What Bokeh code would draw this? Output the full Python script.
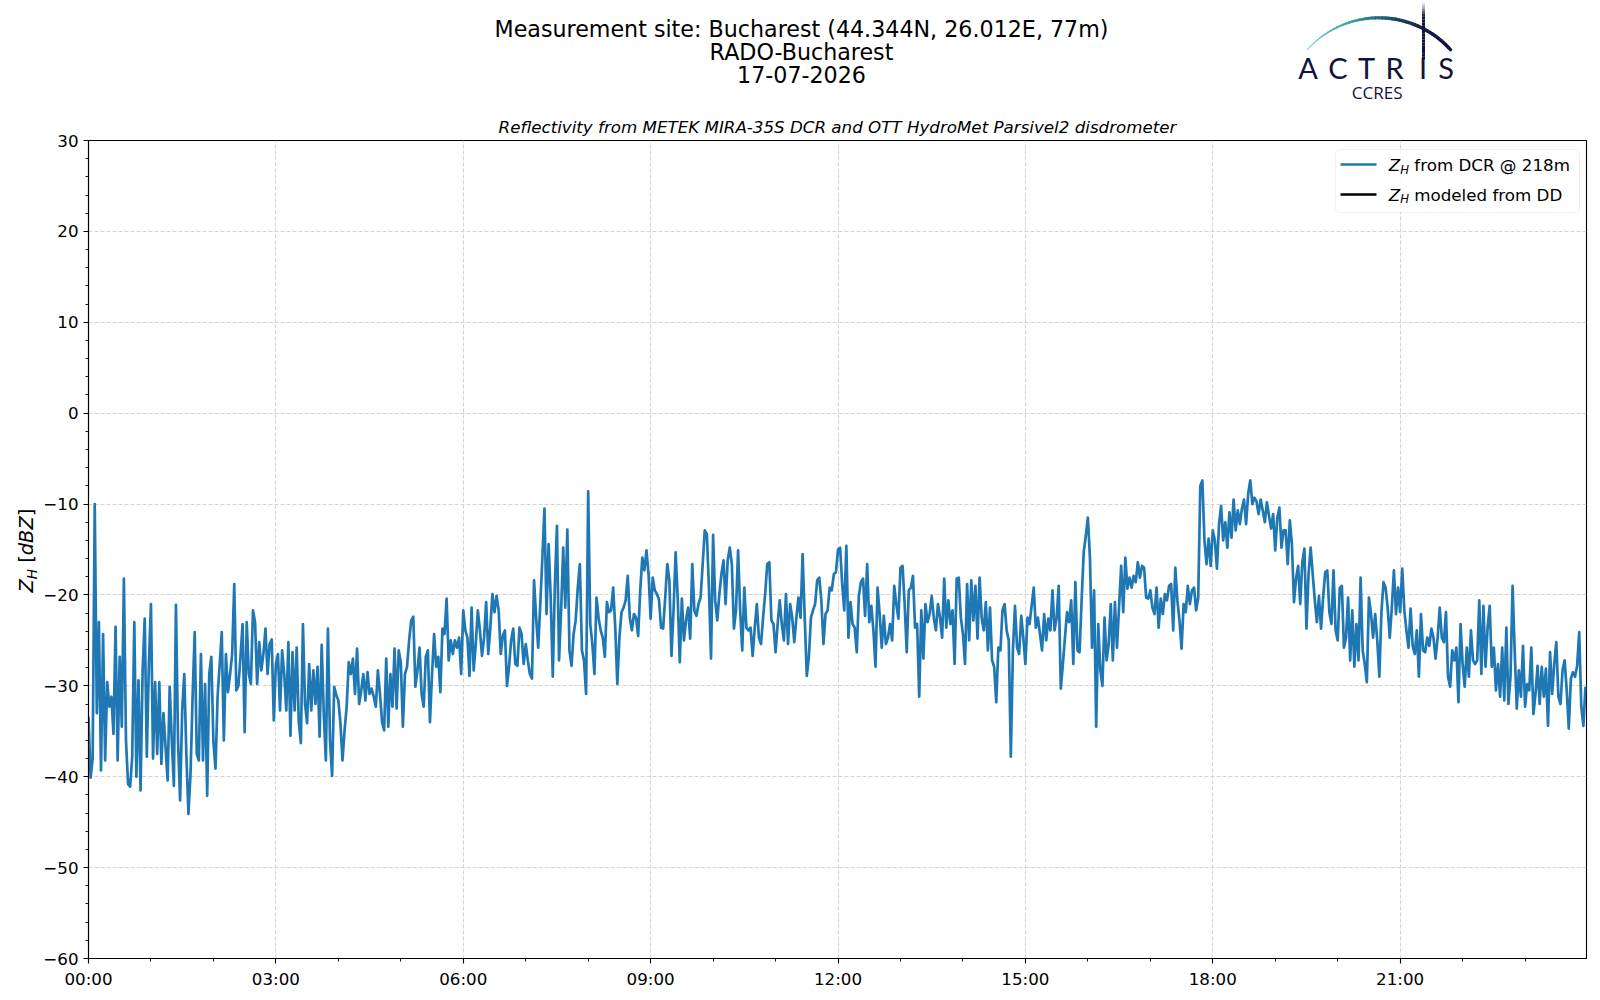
import math
from bokeh.plotting import figure
from bokeh.layouts import gridplot
from bokeh.models import Range1d, FixedTicker, Label, BoxAnnotation, ColumnDataSource
from bokeh.embed import file_html
from bokeh.resources import INLINE
from bokeh.core.properties import value

# ---------------- data (Z_H from DCR @ 218 m, one value every 2 minutes) ----------------
STEP_MIN = 2
zh_00_06 = [
    -33.4, -40.1, -38, -10, -33, -23, -39.3, -24.3, -38.2, -29.6, -32.3, -31.2, -35.3, -23.5, -38.2, -26.8, -34.5, -18.2, -36, -40.8, -41.1, -37.8, -23, -40, -29.4, -41.5, -28.3, -22.6, -37.8, -27.6,
    -21, -38, -29.6, -37.5, -29.6, -38.6, -33, -36.7, -40.4, -30.1, -36, -41, -21.1, -36, -42.6, -32.7, -28.7, -37.5, -44.1, -39.7, -31.2, -24.1, -37.5, -38.2, -26.5, -38.2, -29.8, -42.1, -28.7, -26.8,
    -36.2, -39.1, -31.2, -27.7, -24.1, -36, -26.5, -30.7, -28.7, -26.5, -18.8, -30.5, -30, -26.8, -23.2, -35.1, -23, -28.7, -29.8, -21.7, -23, -29.8, -25.2, -28.3, -26.5, -23.7, -28.7, -25.4, -24.9, -33.8,
    -27.6, -26.5, -32.7, -26.1, -28.7, -32.7, -25.2, -35.5, -26.3, -32.7, -25.8, -34, -36.3, -23.2, -32, -34.1, -27.6, -32.7, -28.3, -32, -27.9, -35.6, -25.5, -33, -38.2, -23.7, -36, -39.9, -30.1, -31,
    -31.6, -34.1, -38.2, -34.9, -32.3, -27.4, -28.7, -27, -30.9, -25.9, -32, -30.5, -28.7, -31.6, -28.5, -30.9, -30.3, -31.2, -32.3, -28.3, -30.9, -34, -34.9, -27, -34.5, -28.7, -32.3, -25.9, -32.5, -26.1,
    -27.4, -34.5, -28.7, -27.9, -25, -22.8, -22.4, -30.1, -28.3, -25.8, -30.9, -32.3, -26.8, -26.1, -34, -28.7, -24.3, -27.9, -26.8, -30.7, -23.7, -24.3, -20.4, -27.2, -25, -26.5, -25, -25.8, -24.7, -28.7,
]
zh_06_12 = [
    -21.7, -23.9, -24.7, -28.9, -21.4, -28.3, -25.4, -21.7, -23.9, -26.7, -24.7, -20.8, -26.5, -23.6, -19.9, -21.9, -20.1, -21.7, -26.5, -24.5, -23.9, -30, -27.9, -25, -23.7, -27.6, -27.8, -23.6, -24.3, -27.6,
    -25.4, -27.2, -28.7, -29.2, -18.4, -22.5, -25.8, -21, -15.9, -10.5, -22.1, -14.4, -20.3, -29, -19, -12.4, -27.2, -21.7, -14.8, -21.4, -12.8, -26.1, -27.8, -24.3, -22.8, -19.2, -16.6, -26.1, -27.2, -30.9,
    -8.6, -23.2, -25.4, -28.7, -20.3, -22.5, -23.9, -24.7, -26.8, -20.8, -21.9, -21.7, -19.2, -23.6, -29.8, -24.7, -21.9, -21.4, -20.6, -17.9, -22.5, -23.9, -22.1, -22.5, -24.5, -19.5, -15.9, -17.3, -15.1, -17.7,
    -22.6, -18.1, -19.5, -19.9, -20.5, -23.6, -23.7, -20.3, -16.6, -18.4, -26.7, -21.7, -15.3, -20.3, -27.4, -20.4, -25, -22.8, -21.4, -24.8, -16.6, -21.7, -22.3, -21, -20.3, -16.6, -12.9, -13.3, -19.2, -27,
    -13.4, -20.6, -22.8, -19.9, -17.7, -16.2, -21, -16.2, -14.8, -16.6, -23.7, -21.7, -15.1, -21.7, -26.1, -19.2, -23.6, -23.9, -23.6, -26.7, -23.6, -21, -24.7, -25.4, -22.5, -19.9, -16.6, -16.4, -22.8, -23.2,
    -26.3, -23.2, -20.6, -23.2, -25, -19.9, -25.4, -21, -22.5, -25.2, -22.5, -20.3, -22.5, -15.5, -22.5, -28.9, -26.8, -22.5, -21.7, -21, -18.4, -18.1, -20.6, -25.4, -22.1, -21.7, -19.2, -19.5, -17.7, -17.5,
]
zh_12_18 = [
    -15, -14.8, -18.8, -21.7, -14.6, -24.7, -20.8, -23.2, -23.6, -26.3, -20.1, -18.6, -18.2, -22.3, -16.6, -23, -21.2, -23.9, -27.9, -19.2, -22.1, -25.8, -22.3, -25.4, -24.7, -23.2, -25, -19, -21, -22.6,
    -17, -16.8, -21, -26.3, -19.5, -19.2, -17.9, -23.6, -23.2, -31.2, -21.7, -27, -21, -23, -22.1, -20.1, -22.5, -23.9, -21, -22.5, -24.7, -18.2, -23.6, -20.6, -23.2, -21.7, -27.6, -18.2, -18.1, -22.5,
    -24.3, -27.6, -18.8, -25, -18.4, -22.8, -19, -24.8, -18.1, -22.5, -23.9, -20.8, -26.1, -21.4, -27.2, -27.9, -31.8, -25.8, -26.1, -21.7, -21, -23.9, -25, -37.8, -26.1, -21.2, -25.8, -26.5, -22.3, -24.7,
    -27.6, -22.5, -23.2, -21.2, -19.2, -23.6, -22.5, -24.3, -26.1, -22.1, -25, -22.6, -23.9, -19.5, -23.9, -22.5, -19, -30.3, -27.6, -24.7, -21.9, -23, -20.6, -27.6, -18.6, -26.1, -26.3, -20.6, -15.3, -13.5,
    -11.5, -15.9, -25.8, -19.5, -34.5, -23.2, -28.3, -30, -22.5, -27.2, -25.4, -21, -27.2, -20.8, -25.8, -21.2, -16.8, -21.9, -15.9, -19.3, -18.1, -19.2, -17.9, -18.6, -16.4, -18.1, -16.8, -17, -20.3, -20.4,
    -19.5, -21.4, -22.1, -19.2, -23.6, -20.4, -22.1, -19.9, -20.6, -19, -18.8, -23.9, -17, -20.6, -22.8, -25.9, -21, -21.9, -19, -21, -19.5, -19.2, -21.7, -20.3, -8, -7.4, -14, -16.6, -13.8, -16.8,
]
zh_18_24 = [
    -12.9, -14, -17.1, -12.2, -10.2, -14, -12, -14.8, -10.9, -13.7, -9.5, -12.9, -10.7, -12.2, -10.5, -9.5, -12.2, -8.9, -7.4, -10, -9.3, -9.7, -11.1, -9.5, -10.7, -12, -9.8, -11.3, -12.7, -11.1,
    -15.1, -11.5, -10.4, -14.8, -12.9, -12.9, -16.6, -11.8, -14.4, -20.8, -18.2, -16.8, -21, -16.4, -14.9, -23.7, -17.7, -14.8, -17.7, -20.6, -23, -20.1, -23.7, -20.3, -17.5, -17.3, -21.9, -23.2, -17.3, -23.9,
    -25, -19.2, -19, -25.8, -24.7, -20.3, -27.2, -21.7, -27.9, -23.2, -27.2, -18.1, -26.1, -27.6, -29.6, -20.3, -22.1, -24.7, -22.1, -25, -29, -21.9, -18.6, -19.2, -21.4, -24.7, -21.4, -17.3, -22.1, -19.2,
    -21.9, -17.1, -21.7, -23.9, -25.8, -21.5, -25.6, -26.5, -23.9, -29, -22.1, -26.1, -26.3, -24.7, -25.6, -23.7, -24.7, -27, -24.7, -21.4, -24.7, -25.2, -21.9, -29, -30.1, -26.1, -27.2, -25.8, -31.8, -23.2,
    -27.6, -30.1, -25.8, -29, -23.9, -27.2, -27.6, -27.2, -20.6, -28.7, -21.2, -27.9, -23.6, -21.2, -27.9, -25.8, -30.5, -27.6, -31.2, -25.8, -31.6, -23.6, -32, -29, -19, -26.1, -32.5, -28.3, -31.2, -25.6,
    -32.3, -29.8, -30.5, -25.8, -33.1, -30.9, -27.8, -32, -27.9, -31.2, -28.1, -34.4, -26.3, -30.9, -27.6, -25.2, -31.2, -32, -28.3, -27.2, -30.5, -34.7, -29.2, -28.5, -29, -27.8, -24.1, -32.3, -34.4, -30.1,
]
zh_dcr = zh_00_06 + zh_06_12 + zh_12_18 + zh_18_24
hours = [i * STEP_MIN / 60.0 for i in range(len(zh_dcr))]

x_ticks = [0, 3, 6, 9, 12, 15, 18, 21]
x_tick_labels = ["00:00", "03:00", "06:00", "09:00", "12:00", "15:00", "18:00", "21:00"]
y_ticks = [-60, -50, -40, -30, -20, -10, 0, 10, 20, 30]
y_tick_labels = ["\u221260", "\u221250", "\u221240", "\u221230", "\u221220", "\u221210", "0", "10", "20", "30"]

title_lines = ["Measurement site: Bucharest (44.344N, 26.012E, 77m)", "RADO-Bucharest", "17-07-2026"]
subtitle = "Reflectivity from METEK MIRA-35S DCR and OTT HydroMet Parsivel2 disdrometer"
legend_texts = ["from DCR @ 218m", "modeled from DD"]
legend_colors = ["#1f77b4", "black"]
logo_letters = ["A", "C", "T", "R", "I", "S"]
logo_sub = "CCRES"

# ---------------- layout constants (page pixels) ----------------
W = 1600
LAB_W = 40          # left strip holding the y-axis title
HEAD_H = 104        # top strip holding titles and logo
B_L, B_R = 48, 14
B_T, B_B = 36, 38
FH = 818
MAIN_W = W - LAB_W
MAIN_H = B_T + FH + B_B
FW = MAIN_W - B_L - B_R
X_END = 23 + 59 / 60.0
Y0, Y1 = -60, 30
FX0 = LAB_W + B_L
FY0 = HEAD_H + B_T
FONT = "DejaVu Sans"
NAVY = "#10133a"
MID = 0.346  # DejaVu: baseline -> middle, in em


def dx(sx):
    return (sx - FX0) * X_END / FW


def dy(sy):
    return Y1 - (sy - FY0) * (Y1 - Y0) / FH


# ---------------- header (titles + logo), data units == page pixels ----------------
h = figure(width=MAIN_W, height=HEAD_H, x_range=Range1d(FX0, FX0 + FW), y_range=Range1d(HEAD_H, 0),
           x_axis_location=None, y_axis_location=None, title=None,
           min_border_left=B_L, min_border_right=B_R, min_border_top=0, min_border_bottom=0,
           toolbar_location=None, output_backend="svg")
h.outline_line_color = None
h.grid.visible = False

title_src = ColumnDataSource(dict(x=[801, 801, 801], y=[28.3, 51.6, 74.0], t=title_lines))
h.text(x="x", y="y", text="t", source=title_src, text_font=value(FONT),
       text_font_size=value("22.2px"), text_align="center", text_baseline="middle",
       text_color="black")


def mix(c1, c2, t):
    a = [int(c1[i:i + 2], 16) for i in (1, 3, 5)]
    b = [int(c2[i:i + 2], 16) for i in (1, 3, 5)]
    return "#%02x%02x%02x" % tuple(int(round(a[k] + (b[k] - a[k]) * t)) for k in range(3))


stops = [(0.0, "#8fd6cf"), (0.35, "#3a9ca3"), (0.6, "#1d4a6c"), (0.8, "#161f47"), (1.0, NAVY)]


def grad(t):
    for k in range(len(stops) - 1):
        t0, c0 = stops[k]
        t1, c1 = stops[k + 1]
        if t <= t1:
            return mix(c0, c1, (t - t0) / (t1 - t0))
    return stops[-1][1]


cx, cy, R = 1378.4, 113.6, 96.3
n_seg = 48
axs, ays, acol, awid = [], [], [], []
th0 = math.radians(-48)
th1 = math.radians(48)
for k in range(n_seg):
    ta = th0 + (th1 - th0) * k / n_seg
    tb = th0 + (th1 - th0) * (k + 1) / n_seg
    axs.append([cx + R * math.sin(ta), cx + R * math.sin(tb)])
    ays.append([cy - R * math.cos(ta), cy - R * math.cos(tb)])
    f = (k + 0.5) / n_seg
    acol.append(grad(f))
    awid.append(1.0 + 2.4 * min(f / 0.55, 1.0))
h.multi_line(xs="xs", ys="ys", line_color="c", line_width="w", line_cap="round",
             source=ColumnDataSource(dict(xs=axs, ys=ays, c=acol, w=awid)))

# fading vertical stroke of the "I"
vxs, vys, vcol = [], [], []
v_top, v_bot = 2.0, 59.0
for k in range(20):
    ya = v_top + (v_bot - v_top) * k / 20
    yb = v_top + (v_bot - v_top) * (k + 1) / 20
    vxs.append([1423, 1423])
    vys.append([ya, yb])
    vcol.append(mix("#ffffff", NAVY, min(1.0, (k + 0.5) / 5.0)))
h.multi_line(xs="xs", ys="ys", line_color="c", line_width=3,
             source=ColumnDataSource(dict(xs=vxs, ys=vys, c=vcol)))

logo_src = ColumnDataSource(dict(x=[1307.5, 1337.5, 1366, 1394, 1422.5, 1445.7],
                                 y=[66.8] * 6, t=logo_letters))
h.text(x="x", y="y", text="t", source=logo_src, text_font=value("Lato"),
       text_font_size=value("29px"), text_align="center", text_baseline="middle",
       text_color=NAVY)
h.text(x=[1376.7], y=[92.1], text=[logo_sub], text_font=value("Open Sans"),
       text_font_size=value("17px"), text_align="center", text_baseline="middle",
       text_color=NAVY)

# ---------------- left strip: y-axis title  Z_H [dBZ] ----------------
ylab = figure(width=LAB_W, height=MAIN_H, x_range=Range1d(0, LAB_W), y_range=Range1d(Y0, Y1),
              x_axis_location=None, y_axis_location=None, title=None,
              min_border_left=0, min_border_right=0, min_border_top=B_T, min_border_bottom=B_B,
              toolbar_location=None, output_backend="svg")
ylab.outline_line_color = None
ylab.grid.visible = False

ylab_base_x = 32.3
ylab_start = 592
ylab_parts = [
    ("Z", 0.0, 0.0, 19.4, "italic"),
    ("H", 13.3, 3.5, 13.6, "italic"),
    ("[", 29.7, 0.0, 19.4, "normal"),
    ("dBZ", 37.3, 0.0, 19.4, "italic"),
    ("]", 76.2, 0.0, 19.4, "normal"),
]
for txt, off, shift, size, style in ylab_parts:
    ylab.text(x=[ylab_base_x + shift - MID * size], y=[dy(ylab_start - off)], text=[txt],
              angle=math.pi / 2, text_font=value(FONT), text_font_size=value("%.1fpx" % size),
              text_font_style=style, text_align="left", text_baseline="middle",
              text_color="black")

# ---------------- main plot ----------------
p = figure(width=MAIN_W, height=MAIN_H, x_range=Range1d(0, X_END), y_range=Range1d(Y0, Y1),
           output_backend="svg", toolbar_location=None, title=subtitle,
           min_border_left=B_L, min_border_right=B_R, min_border_top=B_T, min_border_bottom=B_B)
p.title.align = "center"
p.title.text_font = FONT
p.title.text_font_size = "16.7px"
p.title.text_font_style = "italic"
p.title.text_color = "black"
p.title.standoff = 7
p.outline_line_color = "black"
p.outline_line_width = 1.1
p.outline_line_alpha = 1.0

p.xaxis.ticker = FixedTicker(ticks=x_ticks, minor_ticks=list(range(0, 24)))
p.xaxis.major_label_overrides = dict(zip(x_ticks, x_tick_labels))
p.yaxis.ticker = FixedTicker(ticks=y_ticks, minor_ticks=list(range(-60, 31, 2)))
p.yaxis.major_label_overrides = dict(zip(y_ticks, y_tick_labels))
for ax in (p.xaxis, p.yaxis):
    ax.major_label_text_font = FONT
    ax.major_label_text_font_size = "16.7px"
    ax.major_label_text_color = "black"
    ax.axis_line_color = "black"
    ax.axis_line_width = 1.1
    ax.major_tick_line_color = "black"
    ax.major_tick_line_width = 1.1
    ax.minor_tick_line_color = "black"
    ax.minor_tick_line_width = 0.9
    ax.major_tick_in = 0
    ax.major_tick_out = 5
    ax.minor_tick_in = 0
    ax.minor_tick_out = 3
    ax.major_label_standoff = 5

for g in (p.xgrid, p.ygrid):
    g.grid_line_color = "#d3d3d3"
    g.grid_line_width = 1
    g.grid_line_dash = "4 2"

src = ColumnDataSource(dict(h=hours, zh=zh_dcr))
p.line("h", "zh", source=src, line_color="#1f77b4", line_width=2.7, line_join="round")

# legend
p.add_layout(BoxAnnotation(left=dx(1335), right=dx(1579), top=dy(149), bottom=dy(212),
                           fill_color="white", fill_alpha=0.8, line_color="#cccccc",
                           line_width=1, border_radius=4))
row_base = [170.7, 200.0]
row_line = [164.0, 194.0]
for k in range(2):
    r = p.line(x=[dx(1340), dx(1376)], y=[dy(row_line[k]), dy(row_line[k])],
               line_color=legend_colors[k], line_width=2.7)
    r.level = "overlay"
    p.add_layout(Label(x=dx(1388.3), y=dy(row_base[k] - MID * 16.7), text="Z", text_font=FONT,
                       text_font_size="16.7px", text_font_style="italic",
                       text_align="left", text_baseline="middle", text_color="black"))
    p.add_layout(Label(x=dx(1399.7), y=dy(row_base[k] + 2.7 - MID * 11.7), text="H", text_font=FONT,
                       text_font_size="11.7px", text_font_style="italic",
                       text_align="left", text_baseline="middle", text_color="black"))
    p.add_layout(Label(x=dx(1413.8), y=dy(row_base[k] - MID * 16.7), text=legend_texts[k], text_font=FONT,
                       text_font_size="16.7px", text_align="left", text_baseline="middle",
                       text_color="black"))

grid = gridplot([[None, h], [ylab, p]], toolbar_location=None)
open("out.html", "w").write(file_html(grid, INLINE))
